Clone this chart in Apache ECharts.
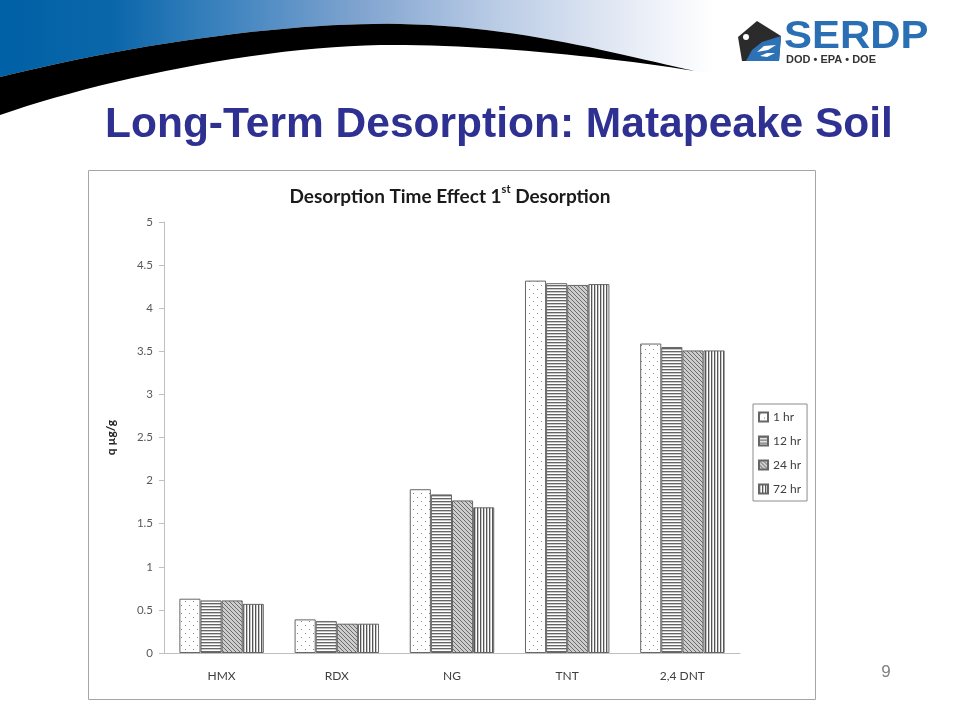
<!DOCTYPE html>
<html>
<head>
<meta charset="utf-8">
<script src="https://cdn.jsdelivr.net/npm/echarts@6/dist/echarts.min.js"></script>
<style>
html,body{margin:0;padding:0;background:#fff;}
#chart{width:960px;height:720px;}
</style>
</head>
<body>
<div id="chart"></div>
<script>
var categories = ['HMX', 'RDX', 'NG', 'TNT', '2,4 DNT'];
var seriesNames = ['1 hr', '12 hr', '24 hr', '72 hr'];
var hr1 = [0.63, 0.39, 1.90, 4.32, 3.59];
var hr12 = [0.61, 0.37, 1.84, 4.29, 3.55];
var hr24 = [0.61, 0.34, 1.77, 4.27, 3.51];
var hr72 = [0.57, 0.34, 1.69, 4.28, 3.51];
var yTicks = { min: 0, max: 5, interval: 0.5 };

function makePattern(kind) {
  var c = document.createElement('canvas');
  var ctx = c.getContext('2d');
  if (kind === 'dots') {
    c.width = 8; c.height = 8;
    ctx.fillStyle = '#ffffff'; ctx.fillRect(0, 0, 8, 8);
    ctx.fillStyle = '#8a8a8a';
    ctx.fillRect(1, 1, 1, 1);
    ctx.fillRect(5, 5, 1, 1);
  } else if (kind === 'hlines') {
    c.width = 4; c.height = 3;
    ctx.fillStyle = '#ffffff'; ctx.fillRect(0, 0, 4, 3);
    ctx.fillStyle = '#666666'; ctx.fillRect(0, 0, 4, 1);
    ctx.fillStyle = '#c8c8c8'; ctx.fillRect(0, 1, 4, 1);
  } else if (kind === 'diag') {
    c.width = 4; c.height = 4;
    ctx.fillStyle = '#cdcdcd'; ctx.fillRect(0, 0, 4, 4);
    ctx.fillStyle = '#6a6a6a';
    for (var i = 0; i < 4; i++) ctx.fillRect(i, i, 1, 1);
  } else {
    c.width = 3; c.height = 4;
    ctx.fillStyle = '#ffffff'; ctx.fillRect(0, 0, 3, 4);
    ctx.fillStyle = '#555555'; ctx.fillRect(0, 0, 1, 4);
    ctx.fillStyle = '#c8c8c8'; ctx.fillRect(1, 0, 1, 4);
  }
  return { image: c, repeat: 'repeat' };
}

// sample a chain of cubic bezier segments into polygon points (decoration only)
function bezierChain(start, segs) {
  var pts = [start.slice()];
  var p0 = start;
  segs.forEach(function (s) {
    for (var k = 1; k <= 24; k++) {
      var t = k / 24, u = 1 - t;
      var x = u*u*u*p0[0] + 3*u*u*t*s[0] + 3*u*t*t*s[2] + t*t*t*s[4];
      var y = u*u*u*p0[1] + 3*u*u*t*s[1] + 3*u*t*t*s[3] + t*t*t*s[5];
      pts.push([x, y]);
    }
    p0 = [s[4], s[5]];
  });
  return pts;
}

var topEdge = bezierChain([0, 77], [[150, 40, 300, 22, 400, 24], [520, 26, 620, 55, 695, 71]]);
var bottomEdge = bezierChain([695, 71], [[600, 56, 480, 44, 380, 45], [260, 47, 100, 80, 0, 115]]);
var bluePts = [[0, 0], [760, 0], [760, 80]].concat(topEdge.slice().reverse());
var blackPts = topEdge.concat(bottomEdge.slice(1));

var patterns = [makePattern('dots'), makePattern('hlines'), makePattern('diag'), makePattern('vlines')];
var allData = [hr1, hr12, hr24, hr72];

var chart = echarts.init(document.getElementById('chart'), null, { renderer: 'canvas' });

var series = seriesNames.map(function (n, i) {
  return {
    name: n,
    type: 'bar',
    data: allData[i],
    barGap: '0%',
    barCategoryGap: '26.7%',
    itemStyle: { color: patterns[i], borderColor: '#666666', borderWidth: 1 }
  };
});

var headerGradient = {
  type: 'linear', x: 0, y: 0, x2: 1, y2: 0, global: false,
  colorStops: [
    { offset: 0, color: '#0060a5' },
    { offset: 0.15, color: '#0b67aa' },
    { offset: 0.3, color: '#3f84bf' },
    { offset: 0.47, color: '#7fa3cf' },
    { offset: 0.65, color: '#b9cbe5' },
    { offset: 0.82, color: '#e4eaf5' },
    { offset: 0.94, color: '#ffffff' },
    { offset: 1, color: '#ffffff' }
  ]
};

var option = {
  animation: false,
  backgroundColor: '#ffffff',
  grid: { left: 164, right: 220, top: 222, bottom: 67, containLabel: false },
  legend: {
    orient: 'vertical',
    left: 753,
    top: 404,
    width: 58,
    padding: [7, 6, 6, 5],
    borderColor: '#8c8c8c',
    borderWidth: 1,
    itemWidth: 9,
    itemHeight: 9,
    itemGap: 12,
    icon: 'rect',
    textStyle: { fontFamily: 'Lato', fontSize: 12, color: '#404040' },
    data: seriesNames
  },
  xAxis: {
    type: 'category',
    data: categories,
    axisLine: { lineStyle: { color: '#bfbfbf', width: 1 } },
    axisTick: { show: false },
    axisLabel: { fontFamily: 'Lato', fontSize: 12, color: '#404040', margin: 17 }
  },
  yAxis: {
    type: 'value',
    min: yTicks.min,
    max: yTicks.max,
    interval: yTicks.interval,
    name: 'q µg/g',
    nameLocation: 'middle',
    nameGap: 47,
    nameRotate: 90,
    nameTextStyle: { fontFamily: 'Lato', fontWeight: 'bold', fontSize: 12, color: '#222' },
    splitLine: { show: false },
    axisLine: { show: true, lineStyle: { color: '#bfbfbf', width: 1 } },
    axisTick: { show: true, length: 5, lineStyle: { color: '#bfbfbf' } },
    axisLabel: { fontFamily: 'Lato', fontSize: 11.5, color: '#595959', margin: 11 }
  },
  series: series,
  graphic: [
    {
      type: 'polygon', silent: true, z: 1,
      shape: { points: bluePts },
      style: { fill: headerGradient }
    },
    {
      type: 'polygon', silent: true, z: 2,
      shape: { points: blackPts },
      style: { fill: '#000000' }
    },
    {
      type: 'polygon', silent: true, z: 3,
      shape: { points: [[757, 21], [781, 36], [779, 61], [742, 61], [738, 37]] },
      style: { fill: '#2b2b2b' }
    },
    {
      type: 'polygon', silent: true, z: 4,
      shape: { points: [[781, 36], [779, 61], [746, 61], [752, 50], [762, 42]] },
      style: { fill: '#2d72b5' }
    },
    {
      type: 'polygon', silent: true, z: 5,
      shape: { points: [[757, 52], [764, 46], [776, 45], [768, 50]] },
      style: { fill: '#ffffff' }
    },
    {
      type: 'polygon', silent: true, z: 5,
      shape: { points: [[760, 56], [767, 53], [775, 53], [767, 57]] },
      style: { fill: '#ffffff' }
    },
    {
      type: 'circle', silent: true, z: 5,
      shape: { cx: 746, cy: 37, r: 3 },
      style: { fill: '#ffffff' }
    },
    {
      type: 'text', silent: true, z: 5,
      x: 784, y: 37, scaleX: 1.075, scaleY: 1,
      style: {
        text: 'SERDP', x: 0, y: 0, verticalAlign: 'middle',
        font: 'bold 39px "Liberation Sans", Arial, sans-serif', fill: '#2a6fb4'
      }
    },
    {
      type: 'text', silent: true, z: 5,
      x: 786, y: 60, scaleX: 1.1, scaleY: 1,
      style: {
        text: 'DOD • EPA • DOE', x: 0, y: 0, verticalAlign: 'middle',
        font: 'bold 10px "Liberation Sans", Arial, sans-serif', fill: '#333333'
      }
    },
    {
      type: 'text', silent: true, z: 5,
      style: {
        text: 'Long-Term Desorption: Matapeake Soil', x: 105, y: 125, verticalAlign: 'middle',
        font: 'bold 42.5px "Liberation Sans", Arial, sans-serif', fill: '#2e3192'
      }
    },
    {
      type: 'rect', silent: true, z: 0,
      shape: { x: 88.5, y: 170.5, width: 727, height: 529 },
      style: { fill: 'none', stroke: '#a6a6a6', lineWidth: 1 }
    },
    {
      type: 'text', silent: true, z: 5,
      style: {
        text: '{a|Desorption Time Effect 1}{s|st}{a| Desorption}',
        x: 450, y: 195, align: 'center', verticalAlign: 'middle',
        rich: {
          a: { fontFamily: 'Lato', fontWeight: 'bold', fontSize: 19, fill: '#1a1a1a', lineHeight: 22, verticalAlign: 'bottom' },
          s: { fontFamily: 'Lato', fontWeight: 'bold', fontSize: 11, fill: '#1a1a1a', lineHeight: 22, verticalAlign: 'top' }
        }
      }
    },
    {
      type: 'text', silent: true, z: 5,
      style: {
        text: '9', x: 886, y: 672, align: 'center', verticalAlign: 'middle',
        font: '17px "Liberation Sans", Arial, sans-serif', fill: '#7f7f7f'
      }
    }
  ]
};
chart.setOption(option);
</script>
</body>
</html>
